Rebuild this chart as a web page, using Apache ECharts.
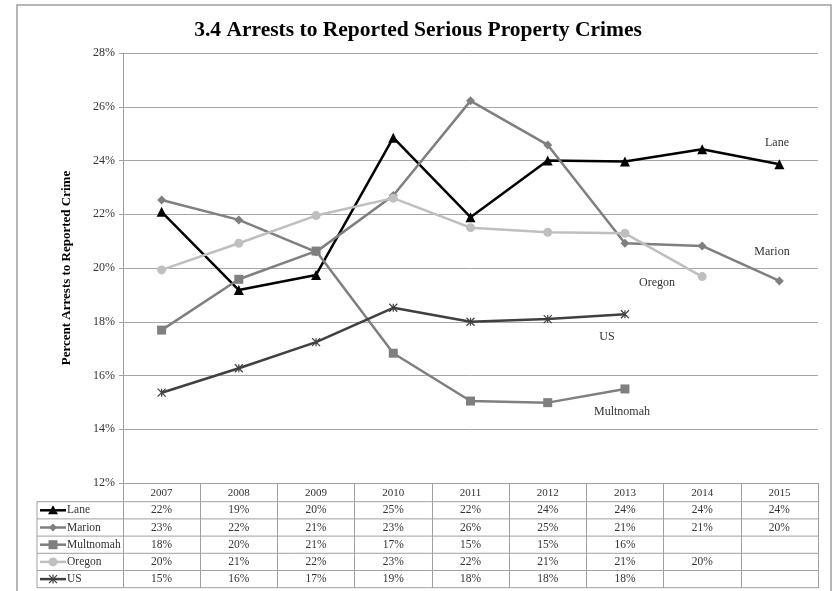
<!DOCTYPE html>
<html><head><meta charset="utf-8">
<script src="https://cdn.jsdelivr.net/npm/echarts@6/dist/echarts.min.js"></script>
<style>html,body{margin:0;padding:0;background:#fff}#c{width:836px;height:591px}</style>
</head><body><div id="c"></div>
<script>
const years = ['2007','2008','2009','2010','2011','2012','2013','2014','2015'];
const lane = [22.09,19.18,19.74,24.85,21.89,24.0,23.96,24.42,23.86];
const marion = [22.53,21.79,20.6,22.7,26.22,24.58,20.92,20.82,19.52];
const multnomah = [17.69,19.58,20.63,16.83,15.05,14.99,15.5,null,null];
const oregon = [19.93,20.92,21.95,22.6,21.5,21.33,21.29,19.68,null];
const us = [15.36,16.27,17.24,18.52,18.0,18.1,18.28,null,null];
const seriesNames = ['Lane','Marion','Multnomah','Oregon','US'];
const yMin = 12, yMax = 28, yStep = 2;

const F = '"Liberation Serif", "DejaVu Serif", serif';
const colors = ['#000000','#7f7f7f','#7f7f7f','#bfbfbf','#404040'];
const starPath = 'path://M0,0L10,10M10,0L0,10M5,0L5,10';
const symbols = ['triangle','diamond','rect','circle',starPath];
const sizes = [10,9,9,9,8];
const allData = [lane, marion, multnomah, oregon, us];

const chart = echarts.init(document.getElementById('c'), null, {renderer:'canvas'});
const option = {
  animation:false,
  backgroundColor:'#fff',
  title:{text:'3.4 Arrests to Reported Serious Property Crimes',left:'center',top:14,
    textStyle:{fontFamily:F,fontWeight:'bold',fontSize:21.5,color:'#000'}},
  grid:{left:123,right:18,top:53,bottom:108},
  xAxis:{type:'category',data:years,boundaryGap:true,
    axisLine:{lineStyle:{color:'#a0a0a0',width:1}},
    axisTick:{show:true,length:105,lineStyle:{color:'#a0a0a0'}},
    axisLabel:{fontFamily:F,fontSize:11,color:'#333',margin:5}},
  yAxis:{type:'value',min:yMin,max:yMax,interval:yStep,
    name:'Percent Arrests to Reported Crime',nameLocation:'middle',nameGap:50,
    nameTextStyle:{fontFamily:F,fontWeight:'bold',fontSize:13,color:'#000'},
    axisLine:{show:true,lineStyle:{color:'#a0a0a0'}},
    axisTick:{show:true,length:4,lineStyle:{color:'#a0a0a0'}},
    axisLabel:{formatter:'{value}%',fontFamily:F,fontSize:12,color:'#333',margin:8},
    splitLine:{lineStyle:{color:'#a6a6a6',width:1}}},
  series: allData.map((d,i)=>({
    name:seriesNames[i],type:'line',data:d,symbol:symbols[i],symbolSize:sizes[i],
    showAllSymbol:true,
    lineStyle:{color:colors[i],width:2.5},
    itemStyle:{color:i===4?'none':colors[i],borderColor:colors[i],borderWidth:i===4?1.2:0}
  }))
};
chart.setOption(option);

const g = [];
g.push({type:'rect',shape:{x:17,y:5,width:814,height:600},style:{fill:null,stroke:'#a0a0a0',lineWidth:1.5},z:-1,silent:true});
const ann = [['Lane',777,143],['Marion',772,252],['Oregon',657,283],['US',607,337],['Multnomah',622,412]];
ann.forEach(a=>g.push({type:'text',x:a[1],y:a[2],style:{text:a[0],fontFamily:F,fontSize:12,fill:'#333',textAlign:'center',textVerticalAlign:'middle'}}));
const rowTop = 501.7, rowH = 17.2, tLeft = 37;
const step = chart.convertToPixel({xAxisIndex:0},1)-chart.convertToPixel({xAxisIndex:0},0);
const plotRight = chart.convertToPixel({xAxisIndex:0}, years.length-1) + step/2;
for(let r=0;r<=seriesNames.length;r++){
  const y = rowTop + r*rowH;
  g.push({type:'line',shape:{x1:tLeft,y1:y,x2:plotRight,y2:y},style:{stroke:'#a0a0a0',lineWidth:1}});
}
g.push({type:'line',shape:{x1:tLeft,y1:rowTop,x2:tLeft,y2:rowTop+seriesNames.length*rowH},style:{stroke:'#a0a0a0',lineWidth:1}});
seriesNames.forEach((n,r)=>{
  const cy = rowTop + r*rowH + rowH/2;
  const col = colors[r];
  g.push({type:'line',shape:{x1:40,y1:cy,x2:66,y2:cy},style:{stroke:col,lineWidth:2.5}});
  const mx = 53;
  if(r===0) g.push({type:'polygon',shape:{points:[[mx,cy-5],[mx+5,cy+4],[mx-5,cy+4]]},style:{fill:col}});
  if(r===1) g.push({type:'polygon',shape:{points:[[mx,cy-4],[mx+4,cy],[mx,cy+4],[mx-4,cy]]},style:{fill:col}});
  if(r===2) g.push({type:'rect',shape:{x:mx-4.5,y:cy-4.5,width:9,height:9},style:{fill:col}});
  if(r===3) g.push({type:'circle',shape:{cx:mx,cy:cy,r:4.5},style:{fill:col}});
  if(r===4){
    g.push({type:'polyline',shape:{points:[[mx-4,cy-4],[mx+4,cy+4]]},style:{stroke:col,lineWidth:1.2}});
    g.push({type:'polyline',shape:{points:[[mx+4,cy-4],[mx-4,cy+4]]},style:{stroke:col,lineWidth:1.2}});
    g.push({type:'polyline',shape:{points:[[mx,cy-4.5],[mx,cy+4.5]]},style:{stroke:col,lineWidth:1.2}});
  }
  g.push({type:'text',x:67,y:cy,style:{text:n,fontFamily:F,fontSize:11.5,fill:'#333',textAlign:'left',textVerticalAlign:'middle'}});
  allData[r].forEach((v,i)=>{
    if(v==null) return;
    const cx = chart.convertToPixel({xAxisIndex:0}, i);
    g.push({type:'text',x:cx,y:cy,style:{text:Math.round(v)+'%',fontFamily:F,fontSize:11.5,fill:'#333',textAlign:'center',textVerticalAlign:'middle'}});
  });
});
chart.setOption({graphic:g});
</script></body></html>
